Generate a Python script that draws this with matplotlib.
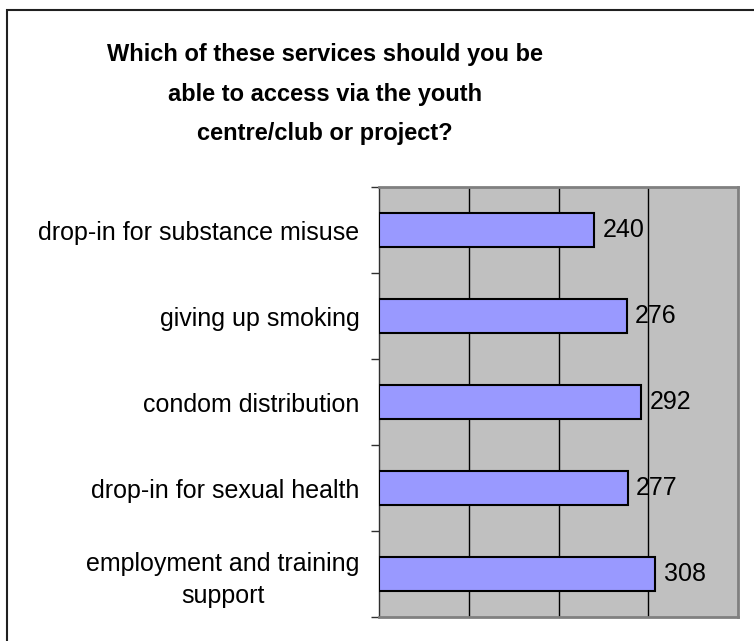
import matplotlib.pyplot as plt
from matplotlib.patches import Rectangle
import numpy as np

plt.rcParams['font.family'] = ['Liberation Sans', 'DejaVu Sans']

# data (top to bottom as shown)
services = ['drop-in for substance misuse', 'giving up smoking',
            'condom distribution', 'drop-in for sexual health',
            'employment and training\nsupport']
counts = [240, 276, 292, 277, 308]
title = 'Which of these services should you be\nable to access via the youth\ncentre/club or project?'

fig = plt.figure(figsize=(7.54, 6.41), dpi=100)
ax = fig.add_axes([379/754, 1 - 617/641, (738 - 379)/754, (617 - 187)/641])

ypos = np.arange(len(services))
ax.barh(ypos, counts, height=0.4, color='#9999FF', edgecolor='black',
        linewidth=1.5, zorder=3)
for y, v in zip(ypos, counts):
    ax.annotate(str(v), (v, y), xytext=(6, 0), textcoords='offset points',
                va='center', ha='left', fontsize=18, zorder=4)

ax.set_xlim(0, 400)
ax.set_ylim(len(services) - 0.5, -0.5)
ax.set_facecolor('#C0C0C0')
ax.set_xticks([100, 200, 300])
ax.xaxis.grid(True, color='black', linewidth=1, zorder=1)
ax.tick_params(axis='x', length=0, labelbottom=False)

# category boundaries get the tick marks, labels sit at the centres
ax.set_yticks(np.arange(-0.5, len(services)), minor=False)
ax.set_yticklabels([])
ax.tick_params(axis='y', which='major', length=6, width=1, color='#303030')
ax.set_yticks(ypos, minor=True)
ax.set_yticklabels(services, minor=True, fontsize=18, ha='right',
                   multialignment='center')
ax.tick_params(axis='y', which='minor', length=0, pad=14)
for lab in ax.get_yticklabels(minor=True):
    lab.set_linespacing(1.4)

for side in ['top', 'right', 'bottom']:
    ax.spines[side].set_color('#808080')
    ax.spines[side].set_linewidth(2)
ax.spines['left'].set_color('#303030')
ax.spines['left'].set_linewidth(1)

fig.text(325/754, 1 - 94/641, title, ha='center', va='center',
         fontsize=17, fontweight='bold', linespacing=1.9)

fig.patches.append(Rectangle((7/754, -0.1), 1.1, 1 - 10/641 + 0.1,
                             transform=fig.transFigure, fill=False,
                             edgecolor='#202020', linewidth=1.5))

fig.savefig('out.png', dpi=100)
